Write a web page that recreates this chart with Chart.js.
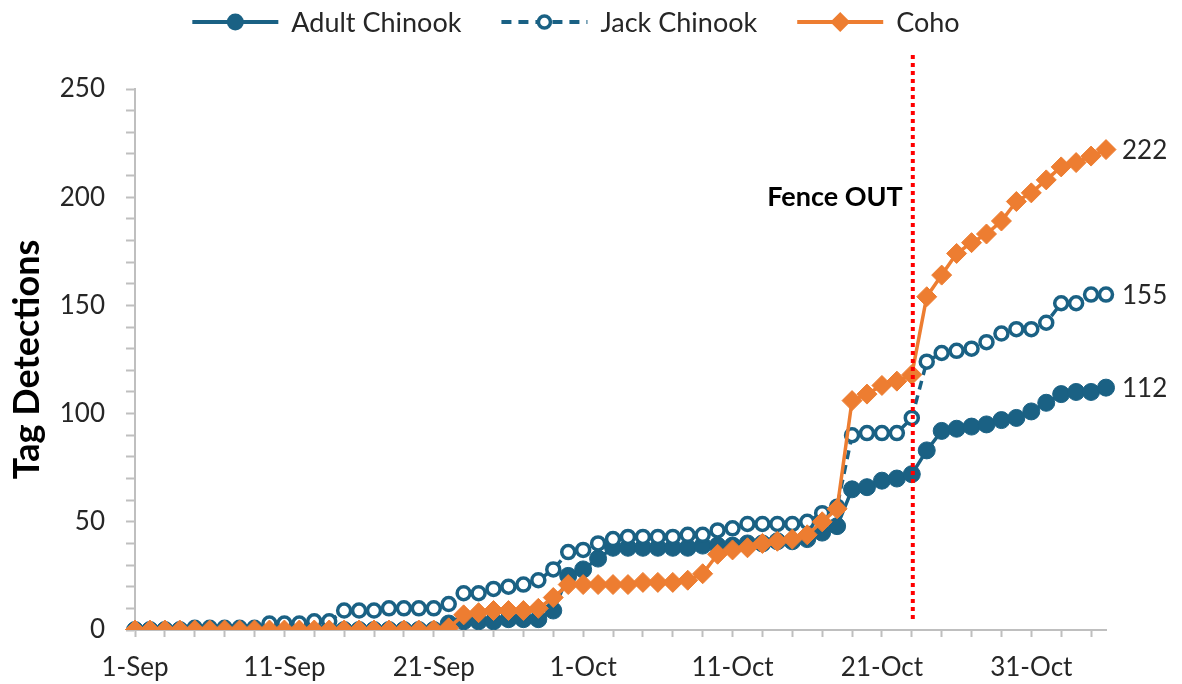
<!DOCTYPE html>
<html lang="en">
<head>
    <meta charset="UTF-8">
    <title>Tag Detections</title>
    <script src="https://cdn.jsdelivr.net/npm/chart.js"></script>
    <style>
        body { margin: 0; background: #fff; }
        #wrap { width: 1182px; height: 684px; position: relative; }
    </style>
</head>
<body>
    <div id="wrap"><canvas id="myChart"></canvas></div>

    <script>
        // daily categories, 1-Sep to 5-Nov
        const dates = [
            '1-Sep','2-Sep','3-Sep','4-Sep','5-Sep','6-Sep','7-Sep','8-Sep','9-Sep','10-Sep',
            '11-Sep','12-Sep','13-Sep','14-Sep','15-Sep','16-Sep','17-Sep','18-Sep','19-Sep','20-Sep',
            '21-Sep','22-Sep','23-Sep','24-Sep','25-Sep','26-Sep','27-Sep','28-Sep','29-Sep','30-Sep',
            '1-Oct','2-Oct','3-Oct','4-Oct','5-Oct','6-Oct','7-Oct','8-Oct','9-Oct','10-Oct',
            '11-Oct','12-Oct','13-Oct','14-Oct','15-Oct','16-Oct','17-Oct','18-Oct','19-Oct','20-Oct',
            '21-Oct','22-Oct','23-Oct','24-Oct','25-Oct','26-Oct','27-Oct','28-Oct','29-Oct','30-Oct',
            '31-Oct','1-Nov','2-Nov','3-Nov','4-Nov','5-Nov'
        ];
        const tickLabels = ['1-Sep', '11-Sep', '21-Sep', '1-Oct', '11-Oct', '21-Oct', '31-Oct'];

        const adultChinook = [
            0,0,0,0,0,0,0,0,0,0, 0,0,0,0,0,0,0,0,0,0,
            0,3,4,4,4,5,5,5,9,25, 28,33,38,38,38,38,38,38,39,39,
            39,40,40,41,41,42,45,48,65,66, 69,70,72,83,92,93,94,95,97,98,
            101,105,109,110,110,112
        ];
        const jackChinook = [
            0,0,0,0,1,1,1,1,1,3, 3,3,4,4,9,9,9,10,10,10,
            10,12,17,17,19,20,21,23,28,36, 37,40,42,43,43,43,43,44,44,46,
            47,49,49,49,49,50,54,57,90,91, 91,91,98,124,128,129,130,133,137,139,
            139,142,151,151,155,155
        ];
        const coho = [
            0,0,0,0,0,0,0,0,0,0, 0,0,0,0,0,0,0,0,0,0,
            0,1,7,8,9,9,9,10,15,21, 21,21,21,21,22,22,22,23,26,35,
            37,38,40,41,42,44,50,56,106,109, 113,115,118,154,164,174,179,183,189,198,
            202,208,214,216,219,222
        ];

        const fenceDate = '23-Oct';
        const fenceText = 'Fence OUT';

        const TEAL = '#1a6184';
        const ORANGE = '#ed7d31';
        const FONT = "'Lato', 'Liberation Sans', sans-serif";
        const TXT = '#262626';

        const series = [
            { label: 'Adult Chinook', data: adultChinook },
            { label: 'Jack Chinook', data: jackChinook },
            { label: 'Coho', data: coho }
        ];

        // draws one legend marker
        function drawMarker(ctx, idx, x, y) {
            ctx.save();
            if (idx === 2) {
                const r = 10;
                ctx.fillStyle = ORANGE;
                ctx.beginPath();
                ctx.moveTo(x, y - r); ctx.lineTo(x + r, y); ctx.lineTo(x, y + r); ctx.lineTo(x - r, y);
                ctx.closePath(); ctx.fill();
            } else if (idx === 1) {
                ctx.fillStyle = '#fff'; ctx.strokeStyle = TEAL; ctx.lineWidth = 3.5;
                ctx.beginPath(); ctx.arc(x, y, 6, 0, Math.PI * 2); ctx.fill(); ctx.stroke();
            } else {
                ctx.fillStyle = TEAL;
                ctx.beginPath(); ctx.arc(x, y, 8.5, 0, Math.PI * 2); ctx.fill();
            }
            ctx.restore();
        }

        const legendPlugin = {
            id: 'customLegend',
            afterDraw(chart) {
                const ctx = chart.ctx;
                ctx.save();
                ctx.font = '27px ' + FONT;
                const sample = 86, gap = 13, between = 40, y = 22;
                let total = 0;
                series.forEach((s, i) => {
                    total += sample + gap + ctx.measureText(s.label).width;
                    if (i < series.length - 1) total += between;
                });
                let x = 576 - total / 2;
                series.forEach((s, i) => {
                    ctx.strokeStyle = i === 2 ? ORANGE : TEAL;
                    ctx.lineWidth = 4;
                    ctx.setLineDash(i === 1 ? [10, 7] : []);
                    ctx.beginPath(); ctx.moveTo(x, y); ctx.lineTo(x + sample, y); ctx.stroke();
                    ctx.setLineDash([]);
                    drawMarker(ctx, i, x + sample / 2, y);
                    ctx.fillStyle = TXT;
                    ctx.textAlign = 'left'; ctx.textBaseline = 'middle';
                    ctx.fillText(s.label, x + sample + gap, y + 1);
                    x += sample + gap + ctx.measureText(s.label).width + between;
                });
                ctx.restore();
            }
        };

        const fencePlugin = {
            id: 'fence',
            afterDatasetsDraw(chart) {
                const ctx = chart.ctx;
                const xs = chart.scales.x, ys = chart.scales.y;
                const fx = xs.getPixelForValue(dates.indexOf(fenceDate)) + 1;
                ctx.save();
                ctx.strokeStyle = '#ff0000';
                ctx.lineWidth = 4;
                ctx.setLineDash([4, 4]);
                ctx.beginPath();
                ctx.moveTo(fx, chart.chartArea.top - 34);
                ctx.lineTo(fx, chart.chartArea.bottom - 8);
                ctx.stroke();
                ctx.setLineDash([]);
                ctx.font = 'bold 27px ' + FONT;
                ctx.fillStyle = '#000';
                ctx.textAlign = 'right'; ctx.textBaseline = 'middle';
                ctx.fillText(fenceText, fx - 10, ys.getPixelForValue(200));
                ctx.restore();
            }
        };

        const endLabelPlugin = {
            id: 'endLabels',
            afterDatasetsDraw(chart) {
                const ctx = chart.ctx;
                ctx.save();
                ctx.font = '26px ' + FONT;
                ctx.fillStyle = TXT;
                ctx.textAlign = 'left'; ctx.textBaseline = 'middle';
                chart.data.datasets.forEach((ds, i) => {
                    const meta = chart.getDatasetMeta(i);
                    const last = meta.data[meta.data.length - 1];
                    ctx.fillText(String(ds.data[ds.data.length - 1]), last.x + 16, last.y + 1);
                });
                ctx.restore();
            }
        };

        const ctx = document.getElementById('myChart').getContext('2d');
        const myChart = new Chart(ctx, {
            type: 'line',
            data: {
                labels: dates,
                datasets: [
                    {
                        label: series[0].label, data: adultChinook, order: 3,
                        borderColor: TEAL, backgroundColor: TEAL, borderWidth: 3.5,
                        pointStyle: 'circle', pointRadius: 8.5, pointBorderWidth: 1,
                        pointBackgroundColor: TEAL, pointBorderColor: TEAL
                    },
                    {
                        label: series[1].label, data: jackChinook, order: 2,
                        borderColor: TEAL, backgroundColor: '#fff', borderWidth: 3.5, borderDash: [9, 6],
                        pointStyle: 'circle', pointRadius: 6.5, pointBorderWidth: 3.5,
                        pointBackgroundColor: '#fff', pointBorderColor: TEAL
                    },
                    {
                        label: series[2].label, data: coho, order: 1,
                        borderColor: ORANGE, backgroundColor: ORANGE, borderWidth: 3.5,
                        pointStyle: 'rectRot', pointRadius: 10, pointBorderWidth: 1,
                        pointBackgroundColor: ORANGE, pointBorderColor: ORANGE
                    }
                ]
            },
            options: {
                responsive: true,
                maintainAspectRatio: false,
                animation: false,
                layout: { padding: { top: 89, right: 76, left: 0, bottom: 0 } },
                plugins: {
                    legend: { display: false },
                    tooltip: { enabled: false }
                },
                scales: {
                    x: {
                        type: 'category',
                        offset: false,
                        afterFit(scale) { scale.height = 54; },
                        border: { color: '#bfbfbf', width: 2 },
                        grid: {
                            drawOnChartArea: false,
                            tickLength: 7,
                            tickWidth: 2,
                            tickColor: (c) => (c.index % 2 === 0 ? '#bfbfbf' : 'rgba(0,0,0,0)')
                        },
                        ticks: {
                            autoSkip: false,
                            maxRotation: 0,
                            padding: 15,
                            color: TXT,
                            font: { family: FONT, size: 26 },
                            callback: (v, i) => (i % 10 === 0 ? tickLabels[i / 10] || '' : '')
                        }
                    },
                    y: {
                        min: 0,
                        max: 250,
                        afterFit(scale) { scale.width = 135; },
                        border: { color: '#bfbfbf', width: 2 },
                        grid: { drawOnChartArea: false, tickLength: 9, tickWidth: 2, tickColor: '#bfbfbf' },
                        ticks: {
                            stepSize: 10,
                            autoSkip: false,
                            padding: 21,
                            color: TXT,
                            font: { family: FONT, size: 26 },
                            callback: (v) => (v % 50 === 0 ? v : '')
                        },
                        title: {
                            display: true,
                            text: 'Tag Detections',
                            color: '#000',
                            font: { family: FONT, size: 36, weight: 'bold' },
                            padding: { top: 6, bottom: 0 }
                        }
                    }
                }
            },
            plugins: [fencePlugin, endLabelPlugin, legendPlugin]
        });
    </script>
</body>
</html>
